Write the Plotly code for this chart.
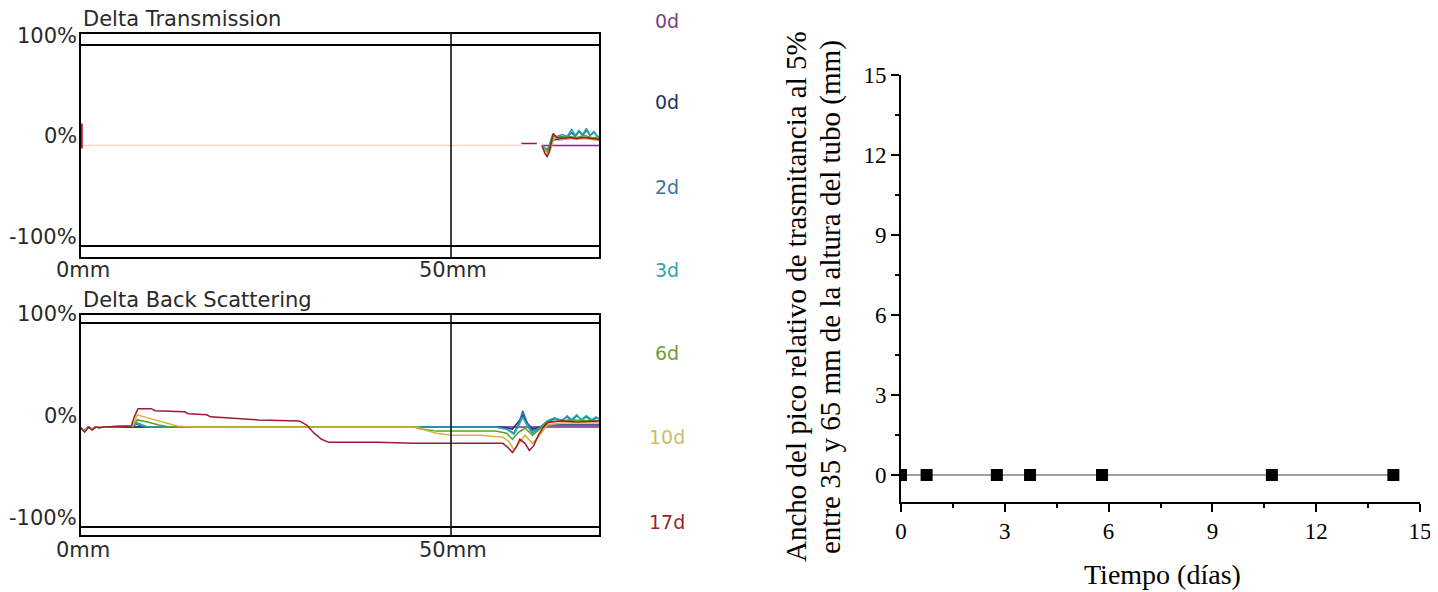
import plotly.graph_objects as go

# ---------------- data ----------------
# Legend (right of the Turbiscan panels)
legend_labels = ["0d", "0d", "2d", "3d", "6d", "10d", "17d"]
legend_colors = ["#7b3f7f", "#25305e", "#3a7598", "#38a3a5", "#6f9e3c", "#c9bf6a", "#9b1f2c"]
legend_ypx = [21, 102, 187, 270, 353, 437, 522]

series_colors = ["#7a2f86", "#1f2b7a", "#2f6fb0", "#1fa7a7", "#5aa02c", "#d4b43a", "#9b1b30"]

# Delta Transmission panel (position in mm, delta in %)
trans_base_x = [0, 59.5]
trans_base_y = [0, 0]
trans_spike_x = [0.1, 0.1]
trans_spike_y = [22, -3]
trans_x = {
    "0d_a": [62.3, 70],
    "0d_b": [62.3, 62.8, 63.1, 63.6, 64.2, 65.0, 65.8, 66.5, 67.2, 68.0, 68.8, 69.5, 70],
    "2d": [62.4, 62.9, 63.2, 63.7, 64.3, 65.0, 65.7, 66.3, 66.8, 67.3, 67.8, 68.3, 68.8, 69.3, 69.8, 70],
    "3d": [62.4, 62.9, 63.2, 63.7, 64.3, 65.0, 65.7, 66.3, 66.8, 67.3, 67.8, 68.3, 68.8, 69.3, 69.8, 70],
    "6d": [62.3, 62.8, 63.1, 63.5, 64.0, 65.0, 66.0, 67.0, 68.0, 69.0, 70],
    "10d": [62.3, 62.8, 63.1, 63.5, 64.0, 65.0, 66.0, 67.0, 68.0, 69.0, 70],
    "17d": [59.5, 61.6, None, 62.3, 62.7, 63.0, 63.3, 63.8, 64.3, 65.0, 66.0, 67.0, 68.0, 69.0, 70],
}
trans_y = {
    "0d_a": [0, 0],
    "0d_b": [0, -4, -3, 5, 6, 6, 7, 8, 7, 8, 7, 8, 6],
    "2d": [0, -5, -3, 9, 8, 9, 8, 13, 9, 14, 10, 15, 10, 13, 9, 8],
    "3d": [0, -5, -2, 10, 9, 11, 9, 16, 10, 15, 11, 17, 10, 14, 9, 9],
    "6d": [0, -4, -7, 0, 9, 8, 9, 8, 10, 8, 7],
    "10d": [0, -6, -9, -3, 8, 6, 7, 6, 7, 6, 5],
    "17d": [2, 2, None, 0, -8, -11, -6, 12, 8, 7, 8, 7, 8, 7, 6],
}

# Delta Back Scattering panel (position in mm, delta in %)
bs_x = {
    "0d_a": [0, 0.5, 1.0, 1.5, 2.0, 3.0, 57.0, 70],
    "0d_b": [0, 0.5, 1.0, 1.5, 2.0, 3.0, 7.0, 57.0, 58.3, 59.2, 59.7, 60.3, 61.0, 62.0, 63.0, 70],
    "2d": [0, 0.5, 1.0, 1.5, 2.0, 3.0, 7.0, 7.5, 8.5, 56.0, 57.5, 58.5, 59.2, 59.7, 60.3, 61.0, 62.0, 63.0, 64.0, 65.0, 65.7, 66.3, 67.0, 67.6, 68.3, 69.0, 69.6, 70],
    "3d": [0, 0.5, 1.0, 1.5, 2.0, 3.0, 7.0, 7.6, 9.0, 56.0, 57.5, 58.5, 59.2, 59.7, 60.3, 61.0, 62.0, 63.0, 64.0, 65.0, 65.7, 66.3, 67.0, 67.6, 68.3, 69.0, 69.6, 70],
    "6d": [0, 0.5, 1.0, 1.5, 2.0, 3.0, 7.0, 7.6, 9.0, 10.5, 12.0, 45.0, 46.0, 48.0, 56.0, 57.5, 58.3, 59.0, 60.0, 61.0, 62.0, 63.0, 66.0, 70],
    "10d": [0, 0.5, 1.0, 1.5, 2.0, 3.0, 7.0, 7.6, 9.0, 11.0, 13.0, 15.0, 45.5, 46.5, 48.0, 50.0, 54.0, 57.0, 57.8, 58.5, 59.2, 60.0, 61.0, 62.0, 63.0, 65.0, 70],
    "17d": [0, 0.5, 1.0, 1.5, 2.0, 2.5, 3.0, 6.8, 7.2, 7.7, 9.5, 10.0, 14.0, 14.5, 17.0, 17.5, 24.0, 28.0, 29.5, 30.5, 31.5, 32.5, 33.5, 40.0, 45.0, 50.0, 55.0, 57.0, 57.7, 58.3, 58.8, 59.3, 60.0, 60.6, 61.2, 61.8, 62.5, 63.0, 63.5, 65.0, 67.0, 70],
}
bs_y = {
    "0d_a": [-3, -6, -2, -4, -2, -2, -2, -2],
    "0d_b": [-3, -6, -2, -4, -2, -2, -2, -2, -4, 4, 10, 2, -4, -2, 0, 0],
    "2d": [-3, -6, -2, -4, -2, -2, -1, 1, -2, -2, -4, -8, 2, 14, 2, -6, -2, 3, 6, 5, 8, 4, 9, 5, 8, 4, 7, 6],
    "3d": [-3, -6, -2, -4, -2, -2, -1, 2, -2, -2, -4, -9, 0, 8, -1, -8, -3, 4, 7, 4, 9, 5, 10, 5, 9, 5, 8, 6],
    "6d": [-3, -6, -2, -4, -2, -2, -1, 5, 3, 0, -2, -2, -4, -6, -6, -8, -14, -8, -3, -10, -4, 3, 5, 4],
    "10d": [-3, -6, -2, -4, -2, -2, -1, 10, 7, 3, -1, -2, -2, -5, -8, -10, -10, -12, -16, -24, -18, -10, -18, -10, 0, 2, 2],
    "17d": [-3, -7, -2, -5, -2, -3, -2, -1, 8, 16, 16, 14, 13, 11, 10, 8, 5, 4, 4, 0, -8, -14, -17, -17, -18, -18, -18, -18, -22, -27, -22, -14, -18, -25, -20, -10, -2, 2, 3, 4, 3, 4],
}
series_keys = ["0d_a", "0d_b", "2d", "3d", "6d", "10d", "17d"]

# Left panels axis labels
pos_ticks = [0, 50]
pos_ticktext = ["0mm", "50mm"]
pct_ticks = [-100, 0, 100]
pct_ticktext = ["-100%", "0%", "100%"]

# Right chart: peak width vs time
time_days = [0.0, 0.74, 2.77, 3.73, 5.81, 10.72, 14.23]
peak_width = [0, 0, 0, 0, 0, 0, 0]
x_ticks = [0, 3, 6, 9, 12, 15]
y_ticks = [0, 3, 6, 9, 12, 15]
y_title_lines = ["Ancho del pico relativo de trasmitancia al 5%",
                 "entre 35 y 65 mm de la altura del tubo (mm)"]
x_title = "Tiempo (días)"

# ---------------- figure ----------------
OFF = 8  # page body margin
W, H = 1438 - OFF, 592 - OFF
def px_x(p):
    return (p - OFF) / W
def px_y(p):
    return 1 - (p - OFF) / H

fig = go.Figure()

# top panel
fig.add_trace(go.Scatter(x=trans_base_x, y=trans_base_y, mode="lines",
                         line=dict(color="#ffd4c4", width=1.5), xaxis="x", yaxis="y",
                         showlegend=False, hoverinfo="skip"))
for k, c in zip(series_keys, series_colors):
    fig.add_trace(go.Scatter(x=trans_x[k], y=trans_y[k], mode="lines",
                             line=dict(color=c, width=1.5), xaxis="x", yaxis="y",
                             showlegend=False, connectgaps=False))
fig.add_trace(go.Scatter(x=trans_spike_x, y=trans_spike_y, mode="lines",
                         line=dict(color="#c0101a", width=2), xaxis="x", yaxis="y",
                         showlegend=False))
# bottom panel
for k, c in zip(series_keys, series_colors):
    fig.add_trace(go.Scatter(x=bs_x[k], y=bs_y[k], mode="lines",
                             line=dict(color=c, width=1.5), xaxis="x2", yaxis="y2",
                             showlegend=False))
# right chart
fig.add_trace(go.Scatter(x=time_days, y=peak_width, mode="lines+markers",
                         line=dict(color="#a0a0a0", width=2),
                         marker=dict(symbol="square", size=12, color="black"),
                         xaxis="x3", yaxis="y3", showlegend=False))

sans = "DejaVu Sans"
serif = "Liberation Serif"
txt_col = "#2a2a2a"
lp_font = dict(family=sans, size=21, color=txt_col)

left_dom = [px_x(81), px_x(599)]
panel_x = dict(range=[0, 70], domain=left_dom, showline=True, mirror=True, automargin=False,
               linecolor="black", linewidth=2, showgrid=False, zeroline=False,
               showticklabels=False, ticks="")
panel_y = dict(showline=True, mirror=True, linecolor="black", linewidth=2, automargin=False,
               showgrid=False, zeroline=False, showticklabels=False, ticks="")

fig.update_layout(
    template="none",
    width=W, height=H, margin=dict(l=0, r=0, t=0, b=0, autoexpand=False),
    paper_bgcolor="white", plot_bgcolor="white",
    xaxis=dict(panel_x, anchor="y"),
    yaxis=dict(panel_y, range=[-110.9, 110.9], domain=[px_y(257), px_y(34)], anchor="x"),
    xaxis2=dict(panel_x, anchor="y2"),
    yaxis2=dict(panel_y, range=[-107.8, 107.8], domain=[px_y(535), px_y(315)], anchor="x2"),
    xaxis3=dict(range=[0, 15], domain=[px_x(901), px_x(1420)], anchor="y3", automargin=False,
                showline=True, linecolor="black", linewidth=2, showgrid=False, zeroline=False,
                tickvals=x_ticks, ticks="outside", ticklen=8, tickwidth=2, tickcolor="black",
                minor=dict(dtick=1.5, tick0=0, ticks="outside", ticklen=4, tickwidth=2,
                           tickcolor="black", showgrid=False),
                tickfont=dict(family=serif, size=23, color="black")),
    yaxis3=dict(range=[-1, 15], domain=[px_y(501.7), px_y(75)], anchor="x3", automargin=False,
                showline=True, linecolor="black", linewidth=2, showgrid=False, zeroline=False,
                tickvals=y_ticks, ticks="outside", ticklen=8, tickwidth=2, tickcolor="black",
                minor=dict(dtick=1.5, tick0=0, ticks="outside", ticklen=4, tickwidth=2,
                           tickcolor="black", showgrid=False),
                tickfont=dict(family=serif, size=23, color="black")),
)

shapes = []
for xa, ya in [("x", "y"), ("x2", "y2")]:
    for v in (100, -100):
        shapes.append(dict(type="line", xref=xa, yref=ya, x0=0, x1=70, y0=v, y1=v,
                           line=dict(color="black", width=2)))
    shapes.append(dict(type="line", xref=xa, yref=ya + " domain", x0=50, x1=50, y0=0, y1=1,
                       line=dict(color="black", width=1.5)))
fig.update_layout(shapes=shapes)

ann = [
    dict(text="Delta Transmission", x=px_x(81), y=px_y(19), xref="paper", yref="paper",
         xanchor="left", yanchor="middle", showarrow=False, font=dict(family=sans, size=21, color=txt_col)),
    dict(text="Delta Back Scattering", x=px_x(81), y=px_y(300), xref="paper", yref="paper",
         xanchor="left", yanchor="middle", showarrow=False, font=dict(family=sans, size=21, color=txt_col)),
]
# mm labels under each left panel, % labels to the left (sitting just above their level)
for xa, ya, ylab in [("x", "y", 270), ("x2", "y2", 550)]:
    for tv, tt in zip(pos_ticks, pos_ticktext):
        ann.append(dict(text=tt, x=tv, y=px_y(ylab), xref=xa, yref="paper",
                        xanchor="center", yanchor="middle", showarrow=False, xshift=2,
                        font=lp_font))
    for tv, tt in zip(pct_ticks, pct_ticktext):
        ann.append(dict(text=tt, x=px_x(79), y=tv, xref="paper", yref=ya,
                        xanchor="right", yanchor="middle", showarrow=False, yshift=9,
                        font=lp_font))
for lab, col, yp in zip(legend_labels, legend_colors, legend_ypx):
    ann.append(dict(text=lab, x=px_x(667), y=px_y(yp), xref="paper", yref="paper",
                    xanchor="center", yanchor="middle", showarrow=False,
                    font=dict(family=sans, size=19, color=col)))
for line_txt, xc in zip(y_title_lines, [796, 831]):
    ann.append(dict(text=line_txt, x=px_x(xc), y=px_y(297), xref="paper", yref="paper",
                    textangle=-90, xanchor="center", yanchor="middle", showarrow=False,
                    font=dict(family=serif, size=29, color="black")))
ann.append(dict(text=x_title, x=px_x(1162), y=px_y(574), xref="paper", yref="paper",
                xanchor="center", yanchor="middle", showarrow=False,
                font=dict(family=serif, size=28, color="black")))
fig.update_layout(annotations=ann)

fig.write_html("out.html")
